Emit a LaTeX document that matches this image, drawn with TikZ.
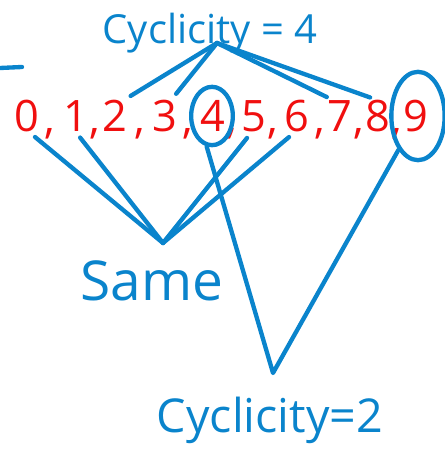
\documentclass[tikz,border=0pt]{standalone}
\usepackage{fontspec}
\setmainfont{Open Sans}
\usetikzlibrary{shapes.geometric}
\definecolor{inkblue}{HTML}{0A84CC}
\definecolor{inkred}{HTML}{F00F0F}

\begin{document}
\begin{tikzpicture}[x=0.6pt,y=-0.6pt,
  ink/.style={inkblue,line width=2.6pt,line cap=round,line join=round},
  digit/.style={inkred,anchor=base,inner sep=0pt,font=\fontsize{26}{30}\selectfont},
  ring/.style={ink,draw,ellipse,inner sep=0pt},
  hand/.style={inkblue,anchor=base,font=\fontsize{#1}{#1}\selectfont}]
  \useasboundingbox (0,0) rectangle (444,469);
  % the digits and their commas
  \foreach \d/\x in {0/27,1/76,2/115,3/165,4/213,5/254,6/297,7/340,8/378,9/416}
    \node[digit] (d\d) at (\x,132) {\d};
  \foreach \x in {50,95,140,188,232,273,320,359,397}
    \node[digit] (c\x) at (\x,134) {,};
  \node[ring,minimum width=25pt,minimum height=35pt] (o4) at (212,116) {};
  \node[ring,minimum width=32pt,minimum height=53pt] (o9) at (418,116) {};
  % labels
  \node[hand=24] (cyc4) at (210,44) {Cyclicity = 4};
  \node[hand=33] (same) at (152,300) {Same};
  \node[hand=28] (cyc2) at (270,432) {Cyclicity=2};
  \coordinate (fan4) at (217,43);
  \coordinate (fanS) at (163,243);
  \coordinate (fan2) at (273,373);
  % connectors
  \draw[ink,shorten >=5pt] (fan4) -- (d2.62);
  \draw[ink,shorten >=5pt] (fan4) -- (d3.70);
  \draw[ink,shorten >=5pt] (fan4) -- (d7.110);
  \draw[ink,shorten >=5pt] (fan4) -- (d8.north);
  \draw[ink,shorten <=4pt] (d0.-80) -- (fanS);
  \draw[ink,shorten <=4pt] (d1.south) -- (fanS);
  \draw[ink,shorten <=4pt] (d5.-100) -- (fanS);
  \draw[ink,shorten <=4pt] (d6.-100) -- (fanS);
  \draw[ink] (o4.-100) -- (fan2) -- (o9.-120);
  \draw[ink] (0,68) -- (22,67);
\end{tikzpicture}
\end{document}
